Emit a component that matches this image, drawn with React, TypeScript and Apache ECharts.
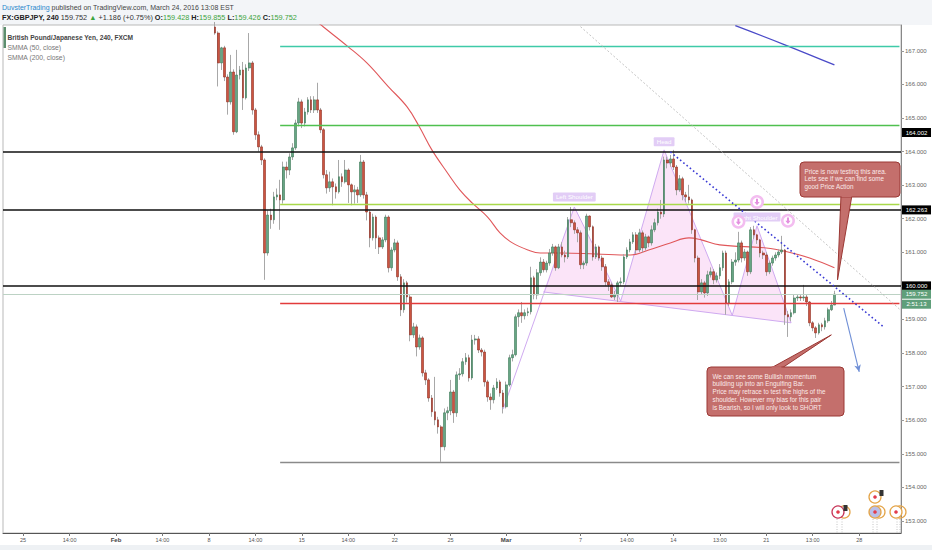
import React, { useEffect, useRef } from 'react';
import * as echarts from 'echarts';

const W = 932;
const H = 550;
const FONT = "'Liberation Sans', Arial, sans-serif";

// ---- time axis (4h bars, 30 bars per trading week) ----
const BAR_COUNT = 290;
const FIRST_BAR = 68;
const categories = Array.from({ length: BAR_COUNT }, (_, i) => String(i));
const xLabelIndex = [6, 21, 36, 51, 66, 81, 96, 111, 126, 144, 162, 186, 201, 216, 231, 246, 261, 276];
const xLabelText = ['25', '14:00', 'Feb', '14:00', '8', '14:00', '15', '14:00', '22', '25', 'Mar', '7', '14:00', '14', '13:00', '21', '13:00', '28'];

// ---- price data (open of each bar = previous close) ----
const FIRST_OPEN = 167.71;
const closes = [
  167.53, 166.64, 167.09, 166.22, 165.48, 166.37, 164.59, 166.28, 166.43, 165.60,
  166.49, 166.64, 165.24, 164.50, 164.14, 163.75, 160.98, 162.11, 161.97, 162.65,
  162.71, 162.56, 163.54, 163.45, 163.84, 164.11, 164.85, 165.48, 164.85, 165.18,
  165.54, 165.24, 165.54, 165.24, 164.65, 163.31, 162.92, 163.10, 162.95, 162.80,
  163.25, 163.10, 163.45, 163.01, 162.80, 162.86, 162.71, 163.69, 162.71, 162.20,
  161.43, 162.05, 161.43, 161.16, 161.37, 162.05, 160.54, 161.07, 161.28, 160.27,
  159.29, 160.09, 159.67, 158.54, 158.78, 158.18, 158.45, 157.41, 157.20, 156.66,
  156.25, 156.01, 155.80, 155.21, 156.22, 156.28, 156.84, 156.22, 157.35, 157.38,
  157.74, 157.86, 157.26, 158.39, 158.42, 158.09, 158.03, 157.14, 156.69, 156.61,
  156.96, 157.14, 156.81, 156.40, 157.05, 157.86, 157.95, 159.08, 159.20, 159.11,
  159.20, 159.23, 160.24, 159.73, 160.39, 160.71, 160.48, 160.68, 160.98, 161.16,
  160.54, 161.16, 160.92, 160.86, 161.97, 161.88, 161.67, 161.58, 160.63, 160.68,
  162.08, 161.76, 160.86, 161.16, 160.83, 160.57, 160.12, 160.03, 159.67, 159.73,
  160.09, 160.12, 160.86, 161.07, 161.31, 161.52, 161.07, 161.58, 161.13, 161.46,
  161.28, 161.67, 161.88, 162.20, 162.14, 163.75, 163.66, 163.78, 163.54, 162.86,
  163.19, 162.71, 162.65, 162.56, 161.67, 160.83, 159.82, 160.09, 159.79, 160.33,
  160.42, 160.18, 160.30, 160.54, 160.98, 159.49, 160.12, 160.71, 160.77, 161.28,
  160.83, 161.01, 160.42, 161.67, 161.52, 161.37, 160.98, 160.92, 160.42, 160.68,
  160.83, 160.92, 161.01, 161.07, 159.14, 159.08, 159.20, 159.64, 159.67, 159.64,
  159.67, 159.52, 158.90, 158.75, 158.60, 158.84, 158.78, 158.96, 159.29, 159.43,
  159.752,
];
const highs = [
  167.86, 167.58, 167.12, 167.15, 166.30, 166.88, 166.45, 167.03, 166.55, 166.67,
  166.60, 167.53, 166.70, 165.30, 164.60, 164.20, 163.80, 162.25, 162.30, 162.80,
  162.90, 163.16, 163.70, 163.70, 163.95, 164.25, 164.95, 165.60, 165.55, 165.30,
  165.62, 165.65, 165.65, 166.05, 165.30, 164.70, 163.45, 163.40, 163.20, 163.05,
  163.75, 163.35, 163.75, 163.50, 163.05, 163.00, 162.95, 163.90, 163.75, 162.80,
  162.25, 162.15, 162.10, 161.50, 161.45, 162.12, 162.10, 161.15, 161.40, 161.35,
  160.35, 160.20, 160.15, 159.75, 158.90, 158.85, 158.55, 158.50, 157.50, 157.25,
  156.75, 157.29, 156.10, 155.85, 156.35, 156.40, 157.20, 156.90, 157.45, 157.55,
  157.85, 158.00, 157.95, 158.54, 158.54, 158.50, 158.15, 158.10, 157.20, 156.80,
  157.05, 157.25, 157.20, 156.90, 157.15, 157.95, 158.10, 159.15, 159.30, 159.52,
  159.30, 159.35, 160.57, 160.30, 160.50, 160.85, 160.80, 160.75, 161.10, 161.25,
  161.20, 161.25, 161.30, 161.05, 162.05, 162.35, 161.95, 161.75, 161.65, 160.75,
  162.15, 162.10, 161.80, 161.25, 161.20, 160.90, 160.65, 160.20, 160.10, 159.85,
  160.15, 160.25, 160.95, 161.15, 161.40, 161.60, 161.60, 161.70, 161.65, 161.55,
  161.50, 161.80, 162.00, 162.30, 162.56, 163.85, 163.85, 163.90, 164.05, 163.60,
  163.30, 163.25, 162.80, 163.01, 162.60, 161.70, 160.90, 160.20, 160.15, 160.45,
  160.55, 160.50, 160.40, 160.65, 161.05, 161.05, 160.20, 160.80, 161.00, 161.61,
  161.35, 161.10, 161.05, 161.75, 161.79, 161.55, 161.40, 161.05, 161.00, 160.75,
  160.90, 161.00, 161.10, 161.49, 161.10, 159.25, 159.30, 159.75, 159.75, 159.75,
  160.03, 159.75, 159.55, 158.95, 158.80, 158.90, 158.90, 159.05, 159.35, 159.55,
  159.855,
];
const lows = [
  167.48, 165.94, 166.43, 166.10, 165.10, 165.40, 164.50, 164.55, 166.15, 165.24,
  165.55, 166.40, 165.10, 164.35, 164.00, 163.60, 160.18, 160.90, 161.70, 161.85,
  162.55, 161.67, 162.45, 163.20, 163.30, 163.75, 164.05, 164.75, 164.70, 164.75,
  165.10, 165.15, 165.15, 165.15, 164.55, 163.20, 162.75, 162.80, 162.40, 162.60,
  162.75, 162.95, 163.05, 162.47, 162.40, 162.45, 162.47, 162.65, 162.60, 161.95,
  161.15, 161.35, 161.10, 160.95, 161.10, 161.30, 160.40, 160.45, 161.00, 160.15,
  159.10, 159.20, 159.50, 158.35, 158.45, 157.90, 158.10, 157.30, 157.05, 156.55,
  156.10, 155.85, 155.60, 154.76, 155.10, 156.00, 156.15, 155.92, 156.10, 157.20,
  157.30, 157.65, 157.15, 157.20, 158.25, 158.00, 157.90, 157.00, 156.55, 156.31,
  156.50, 156.90, 156.70, 156.20, 156.35, 157.00, 157.75, 157.90, 158.78, 158.90,
  159.00, 159.10, 159.15, 159.60, 159.60, 160.30, 160.40, 160.40, 160.60, 160.90,
  160.45, 160.50, 160.85, 160.70, 160.80, 161.75, 161.55, 161.30, 160.50, 160.50,
  160.60, 161.65, 160.75, 160.80, 160.75, 160.45, 160.00, 159.85, 159.64, 159.58,
  159.52, 160.00, 160.05, 160.80, 161.00, 161.25, 160.95, 161.00, 161.00, 161.05,
  161.15, 161.20, 161.60, 161.80, 162.00, 162.05, 163.50, 163.55, 163.45, 162.70,
  162.80, 162.55, 162.50, 162.45, 161.55, 160.70, 159.58, 159.75, 159.65, 159.70,
  160.25, 160.05, 160.10, 160.20, 160.45, 159.14, 159.40, 160.05, 160.60, 160.70,
  160.70, 160.75, 160.30, 160.35, 161.40, 161.25, 160.85, 160.80, 160.30, 160.35,
  160.60, 160.75, 160.85, 160.95, 158.84, 158.48, 158.95, 159.15, 159.55, 159.55,
  159.55, 159.40, 158.80, 158.65, 158.45, 158.55, 158.65, 158.70, 158.90, 159.25,
  159.426,
];

// ---- indicators ----
const smma200Idx = [101, 103, 111, 117, 124, 130, 134, 138, 143, 147, 151, 156, 160, 164, 169, 173, 180, 191, 202, 208, 215, 221, 225, 231, 246, 253, 260, 268];
const smma200Val = [167.86, 167.71, 167.12, 166.64, 165.93, 165.33, 164.73, 164.05, 163.37, 162.86, 162.47, 162.05, 161.58, 161.28, 161.07, 160.98, 160.98, 160.95, 160.92, 161.07, 161.28, 161.43, 161.37, 161.22, 161.13, 161.01, 160.83, 160.54];
const smma50Idx = [236, 252, 268];
const smma50Val = [167.75, 167.18, 166.58];

// ---- drawn levels & trend lines ----
const blackLevels = [164.002, 162.263, 160.0];
const LAST_PRICE = 159.752;
const zoneStart = 89;
const zoneEnd = 289;
const tealLevel = 167.15;
const greenLevel = 164.79;
const limeLevel = 162.44;
const redLevel = 159.49;
const grayLevel = 154.76;
const grayTrend = [[186, 167.72], [289, 159.31]];
const blueTrend = [[215, 163.99], [284, 158.77]];
const arrowLine = [[271, 159.34], [276, 157.44]];

// ---- head & shoulders drawing: start, neck-base, LS, N1, Head, N2, RS, end ----
const hsIdx = [161, 174, 184, 199, 213, 235, 243, 254];
const hsPrice = [156.33, 159.82, 162.35, 159.55, 164.05, 159.12, 161.79, 158.90];
const hsLabelIdx = [184, 213, 243];
const hsLabelPrice = [162.65, 164.29, 162.05];
const hsLabelText = ['Left Shoulder', 'Head', 'Right Shoulder'];
const arrowIconIdx = [237, 243, 253];
const arrowIconPrice = [161.91, 162.50, 161.94];

// ---- callouts ----
const topNoteTip = [269, 160.18];
const bottomNoteTip = [267, 158.54];
const topNote = ['Price is now testing this area.', 'Lets see if we can find some', 'good Price Action'];
const bottomNote = [
  'We can see some Bullish momentum',
  'building up into an Engulfing Bar.',
  'Price may retrace to test the highs of the',
  'shoulder. However my bias for this pair',
  'is Bearish, so I will only look to SHORT',
];

export default function App() {
  const ref = useRef<HTMLDivElement>(null);

  useEffect(() => {
    if (!ref.current) return;
    const chart = echarts.init(ref.current, undefined, { renderer: 'svg', width: W, height: H });

    const candleRows = closes.map((c, k) => {
      const o = k === 0 ? FIRST_OPEN : closes[k - 1];
      return [FIRST_BAR + k, o, c, lows[k], highs[k]];
    });
    const bodyRows = candleRows.map(([x, o, c]) => [x, o, c, Math.min(o, c), Math.max(o, c)]);

    const zoneLine = (p: number, color: string, width = 1.3) => [
      { coord: [zoneStart, p], lineStyle: { color, width, type: 'solid' } },
      { coord: [zoneEnd, p] },
    ];

    chart.setOption({
      animation: false,
      backgroundColor: '#ffffff',
      grid: { left: 3, right: 31, top: 25, bottom: 17, show: true, borderColor: '#b9b9b9', borderWidth: 1 },
      xAxis: {
        type: 'category',
        data: categories,
        boundaryGap: true,
        axisLine: { show: true, lineStyle: { color: '#555', width: 1 } },
        axisTick: {
          show: true,
          alignWithLabel: true,
          length: 3,
          interval: (i: number) => xLabelIndex.indexOf(i) >= 0,
          lineStyle: { color: '#777' },
        },
        axisLabel: {
          interval: (i: number) => xLabelIndex.indexOf(i) >= 0,
          formatter: (_v: string, i: number) => {
            const t = xLabelText[xLabelIndex.indexOf(i)] || '';
            return t === 'Feb' || t === 'Mar' ? '{b|' + t + '}' : t;
          },
          rich: { b: { fontWeight: 'bold', fontSize: 6, color: '#444', fontFamily: FONT } },
          fontSize: 5.5,
          color: '#555',
          fontFamily: FONT,
          margin: 4,
        },
        splitLine: { show: false },
      },
      yAxis: {
        type: 'value',
        position: 'right',
        min: 152.64,
        max: 167.77,
        splitNumber: 15,
        scale: true,
        axisLine: { show: true, lineStyle: { color: '#888' } },
        axisTick: { show: true, length: 3, lineStyle: { color: '#999' } },
        axisLabel: {
          formatter: (v: number) => v.toFixed(3),
          fontSize: 6,
          color: '#666',
          fontFamily: FONT,
          margin: 4,
          showMinLabel: false,
          showMaxLabel: false,
        },
        splitLine: { show: false },
      },
      series: [
        {
          type: 'custom',
          name: 'hs',
          silent: true,
          data: [[hsIdx[4], hsPrice[4]]],
          renderItem: (_p: any, api: any) => {
            const pts = hsIdx.map((x, k) => api.coord([x, hsPrice[k]]));
            return {
              type: 'group',
              children: [
                { type: 'polygon', shape: { points: pts.slice(1) }, style: { fill: 'rgba(238,150,228,0.26)', stroke: 'none' } },
                { type: 'polyline', shape: { points: [pts[0], pts[2], pts[3], pts[4], pts[5], pts[6], pts[7]] }, style: { stroke: '#cfaaf0', lineWidth: 1, fill: 'none' } },
                { type: 'line', shape: { x1: pts[1][0], y1: pts[1][1], x2: pts[7][0], y2: pts[7][1] }, style: { stroke: '#cfaaf0', lineWidth: 1 } },
              ],
            };
          },
          z: 1,
        },
        {
          type: 'line',
          name: 'SMMA (200, close)',
          data: smma200Idx.map((x, k) => [x, smma200Val[k]]),
          smooth: 0.4,
          symbol: 'none',
          lineStyle: { color: '#e0575a', width: 1.1 },
          z: 2,
        },
        {
          type: 'line',
          name: 'SMMA (50, close)',
          data: smma50Idx.map((x, k) => [x, smma50Val[k]]),
          smooth: 0.4,
          symbol: 'none',
          lineStyle: { color: '#4a4ac8', width: 1.3 },
          z: 2,
        },
        {
          type: 'candlestick',
          name: 'wicks',
          data: candleRows,
          encode: { x: 0, y: [1, 2, 3, 4] },
          barWidth: 1,
          silent: true,
          itemStyle: { color: '#a8a8a8', color0: '#a8a8a8', borderColor: '#a8a8a8', borderColor0: '#a8a8a8', borderWidth: 1 },
          z: 3,
        },
        {
          type: 'candlestick',
          name: 'GBPJPY',
          data: bodyRows,
          encode: { x: 0, y: [1, 2, 3, 4] },
          barWidth: 2.2,
          silent: true,
          itemStyle: { color: '#67a584', color0: '#cb5540', borderColor: '#3d7858', borderColor0: '#8f2e21', borderWidth: 0.6 },
          markLine: {
            silent: true,
            symbol: ['none', 'none'],
            label: { show: false },
            data: [
              { yAxis: LAST_PRICE, lineStyle: { color: '#bcd2c4', width: 1, type: 'solid' } },
              ...blackLevels.map((p) => ({ yAxis: p, lineStyle: { color: '#111', width: 1.6, type: 'solid' } })),
              zoneLine(tealLevel, '#3fcaa8'),
              zoneLine(greenLevel, '#4fc04f'),
              zoneLine(limeLevel, '#a9d94a'),
              zoneLine(redLevel, '#e23b3b'),
              zoneLine(grayLevel, '#8a8a8a'),
              [
                { coord: grayTrend[0], lineStyle: { color: '#b5b5b5', width: 0.8, type: [2, 2] } },
                { coord: grayTrend[1] },
              ],
              [
                { coord: blueTrend[0], lineStyle: { color: '#3a3ad4', width: 1.6, type: [1.6, 2.6] } },
                { coord: blueTrend[1] },
              ],
              [
                { coord: arrowLine[0], symbol: 'none', lineStyle: { color: '#6f8fd6', width: 1.1, type: 'solid' } },
                { coord: arrowLine[1], symbol: 'arrow', symbolSize: [5, 7] },
              ],
            ],
          },
          z: 4,
        },
        {
          type: 'custom',
          name: 'hsLabels',
          silent: true,
          data: hsLabelIdx.map((x, k) => [x, hsLabelPrice[k], k]),
          renderItem: (_p: any, api: any) => {
            const [cx, cy] = api.coord([api.value(0), api.value(1)]);
            return {
              type: 'text',
              style: {
                text: hsLabelText[api.value(2)],
                x: cx,
                y: cy,
                align: 'center',
                verticalAlign: 'middle',
                fill: '#ffffff',
                fontSize: 6.2,
                fontFamily: FONT,
                backgroundColor: '#e2cdf6',
                padding: [1.5, 3],
                borderRadius: 1,
              },
            };
          },
          z: 5,
        },
        {
          type: 'custom',
          name: 'arrowIcons',
          silent: true,
          data: arrowIconIdx.map((x, k) => [x, arrowIconPrice[k]]),
          renderItem: (_p: any, api: any) => {
            const [cx, cy] = api.coord([api.value(0), api.value(1)]);
            return {
              type: 'group',
              children: [
                { type: 'circle', shape: { cx, cy, r: 7 }, style: { fill: '#f3bdf0' } },
                { type: 'circle', shape: { cx, cy, r: 4.4 }, style: { fill: '#ffffff' } },
                {
                  type: 'polygon',
                  shape: { points: [[cx - 1, cy - 3.2], [cx + 1, cy - 3.2], [cx + 1, cy], [cx + 2.6, cy], [cx, cy + 3.2], [cx - 2.6, cy], [cx - 1, cy]] },
                  style: { fill: '#e48fe0' },
                },
              ],
            };
          },
          z: 6,
        },
      ],
    });

    const yPix = (p: number) => chart.convertToPixel({ yAxisIndex: 0 }, p) as number;
    const xPix = (i: number) => chart.convertToPixel({ xAxisIndex: 0 }, i) as number;

    const txt = (x: number, y: number, text: string, extra: any = {}, z = 20) => ({
      type: 'text',
      silent: true,
      z,
      style: {
        x, y, text,
        fill: '#333',
        fontSize: 7,
        fontFamily: FONT,
        align: 'left', textAlign: 'left',
        verticalAlign: 'middle', textVerticalAlign: 'middle',
        ...extra,
      },
    });

    const axisBoxes = [
      { p: 164.002, t: '164.002', bg: '#000000', dy: -19 },
      { p: 162.263, t: '162.263', bg: '#000000', dy: 0 },
      { p: 160.0, t: '160.000', bg: '#000000', dy: 0 },
      { p: LAST_PRICE, t: '159.752', bg: '#5f9f7a', dy: 0 },
      { p: LAST_PRICE, t: '2:51:13', bg: '#5f9f7a', dy: 10 },
    ];

    const noteFill = '#c46f6c';
    const noteStroke = '#9b3834';
    const tTip = [xPix(topNoteTip[0]), yPix(topNoteTip[1])];
    const bTip = [xPix(bottomNoteTip[0]), yPix(bottomNoteTip[1])];

    const graphic: any[] = [
      { type: 'rect', silent: true, z: -1, shape: { x: 0, y: 0, width: W, height: 25 }, style: { fill: '#f3f5f8' } },
      { type: 'rect', silent: true, z: -1, shape: { x: 0, y: 545, width: W, height: 5 }, style: { fill: '#eef1f4' } },
      txt(2, 7, '{u|DuvsterTrading}{t| published on TradingView.com, March 24, 2016 13:08 EST}', {
        rich: {
          u: { fill: '#2a87cc', color: '#2a87cc', fontSize: 7, fontFamily: FONT },
          t: { fill: '#444', color: '#444', fontSize: 7, fontFamily: FONT },
        },
      }),
      txt(2, 17.5, '{b|FX:GBPJPY, 240}{t| 159.752 }{g|▲}{t| +1.186 (+0.75%) }{b|O:}{g|159.428}{b| H:}{g|159.855}{b| L:}{g|159.426}{b| C:}{g|159.752}', {
        rich: {
          b: { fill: '#222', color: '#222', fontWeight: 'bold', fontSize: 7.3, fontFamily: FONT },
          t: { fill: '#333', color: '#333', fontSize: 7.3, fontFamily: FONT },
          g: { fill: '#3da43d', color: '#3da43d', fontSize: 7.3, fontFamily: FONT },
        },
      }),
      { type: 'rect', silent: true, z: 20, shape: { x: 3.5, y: 27, width: 2.5, height: 21 }, style: { fill: '#5d8f6e' } },
      txt(7.5, 37, 'British Pound/Japanese Yen, 240, FXCM', { fontWeight: 'bold', fontSize: 6.6, fill: '#444' }),
      txt(7.5, 47, 'SMMA (50, close)', { fontSize: 6.8, fill: '#777' }),
      txt(7.5, 57, 'SMMA (200, close)', { fontSize: 6.8, fill: '#777' }),
    ];

    axisBoxes.forEach((b) => {
      const y = yPix(b.p) + b.dy;
      graphic.push({ type: 'rect', silent: true, z: 30, shape: { x: 902, y: y - 4.5, width: 29, height: 9 }, style: { fill: b.bg } });
      graphic.push(txt(916.5, y, b.t, { fill: '#ffffff', fontSize: 6, align: 'center', textAlign: 'center' }, 31));
    });

    // upper note
    graphic.push({ type: 'polygon', silent: true, z: 40, shape: { points: [[841, 195], [852, 195], tTip] }, style: { fill: noteFill, stroke: noteStroke, lineWidth: 1 } });
    graphic.push({ type: 'rect', silent: true, z: 40, shape: { x: 800, y: 162, width: 100, height: 35, r: 4 }, style: { fill: noteFill, stroke: noteStroke, lineWidth: 1 } });
    graphic.push({ type: 'rect', silent: true, z: 41, shape: { x: 841.6, y: 195.5, width: 9.8, height: 1.6 }, style: { fill: noteFill } });
    topNote.forEach((line, k) => graphic.push(txt(804.5, 171.5 + k * 7.3, line, { fill: '#fbeaea', fontSize: 6.3 }, 42)));

    // lower note
    graphic.push({ type: 'polygon', silent: true, z: 40, shape: { points: [[771, 368], [782, 368], bTip] }, style: { fill: noteFill, stroke: noteStroke, lineWidth: 1 } });
    graphic.push({ type: 'rect', silent: true, z: 40, shape: { x: 707, y: 367, width: 137, height: 49, r: 4 }, style: { fill: noteFill, stroke: noteStroke, lineWidth: 1 } });
    graphic.push({ type: 'rect', silent: true, z: 41, shape: { x: 771.6, y: 366.3, width: 9.8, height: 1.6 }, style: { fill: noteFill } });
    bottomNote.forEach((line, k) => graphic.push(txt(712.5, 376 + k * 7.8, line, { fill: '#fbeaea', fontSize: 6.3 }, 42)));

    // economic event markers (bottom right)
    const ring = (cx: number, cy: number, stroke: string, dot: boolean, fill = '#ffffff') => {
      graphic.push({ type: 'circle', silent: true, z: 25, shape: { cx, cy, r: 6 }, style: { fill, stroke, lineWidth: 1.3 } });
      if (dot) graphic.push({ type: 'circle', silent: true, z: 26, shape: { cx, cy, r: 1.8 }, style: { fill: '#e23c4c' } });
    };
    [837, 842, 873, 877, 897, 900].forEach((x) => {
      graphic.push({ type: 'line', silent: true, z: 24, shape: { x1: x, y1: 519, x2: x, y2: 533 }, style: { stroke: '#b5b5b5', lineWidth: 0.8, lineDash: [1, 1.5] } });
    });
    ring(844, 512, '#e4a54a', false, 'rgba(255,255,255,0)');
    ring(838, 512, '#c8385a', true);
    ring(879, 512, '#e4a54a', false, 'rgba(255,255,255,0)');
    ring(875, 512, '#e4a54a', true, '#b9bfe8');
    ring(875, 497, '#e4a54a', true);
    ring(900, 512, '#e4a54a', false, 'rgba(255,255,255,0)');
    ring(896, 512, '#e4a54a', true);
    graphic.push({ type: 'rect', silent: true, z: 26, shape: { x: 843.5, y: 505, width: 4, height: 6 }, style: { fill: '#333' } });
    graphic.push({ type: 'rect', silent: true, z: 26, shape: { x: 879.5, y: 490, width: 4, height: 6 }, style: { fill: '#333' } });

    chart.setOption({ graphic });

    return () => chart.dispose();
  }, []);

  return <div ref={ref} style={{ position: 'fixed', left: 0, top: 0, width: W, height: H }} />;
}
